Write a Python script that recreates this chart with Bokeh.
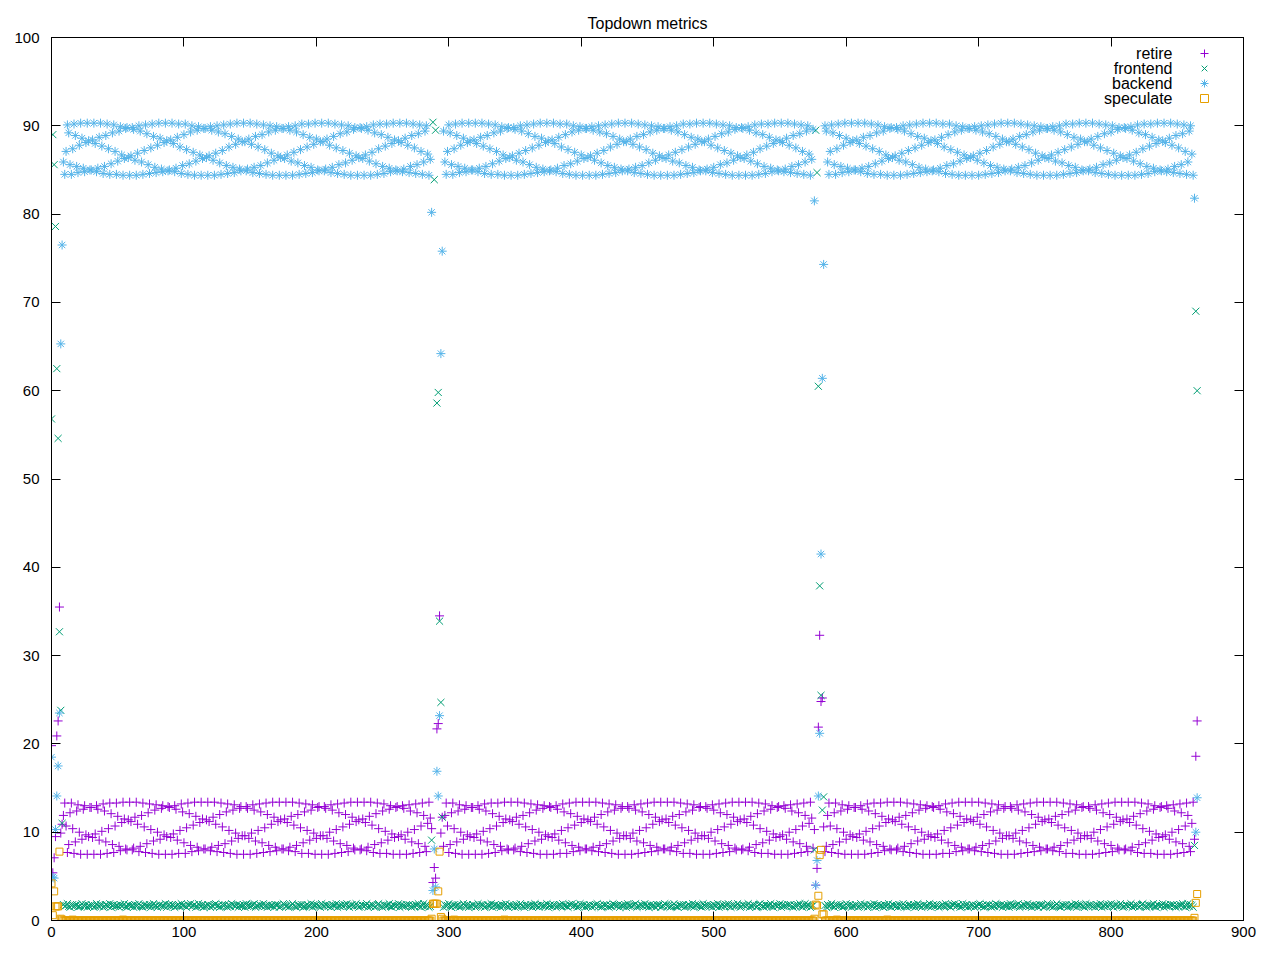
from bokeh.plotting import figure
from bokeh.models import Range1d, FixedTicker, Legend, LegendItem, Label, LinearAxis
from bokeh.embed import file_html
from bokeh.resources import INLINE
from bokeh.core.properties import value

title_text = "Topdown metrics"
series_names = ["retire", "frontend", "backend", "speculate"]
series_colors = ["#9400d3", "#009e73", "#56b4e9", "#e69f00"]
x_ticks = [0, 100, 200, 300, 400, 500, 600, 700, 800, 900]
y_ticks = [0, 10, 20, 30, 40, 50, 60, 70, 80, 90, 100]

# steady-state readings of one run (sample index within run)
retire_cycle = [
    13.4, 11.3, 8.0, 8.2, 11.6, 13.4, 11.0, 7.8, 8.4, 11.9,
    13.3, 10.7, 7.7, 8.6, 12.2, 13.3, 10.4, 7.6, 8.9, 12.4,
    13.1, 10.0, 7.5, 9.2, 12.6, 13.0, 9.7, 7.5, 9.5, 12.8,
    12.8, 9.4, 7.5, 9.8, 13.0, 12.6, 9.1, 7.5, 10.1, 13.2,
    12.4, 8.9, 7.6, 10.4, 13.3, 12.1, 8.6, 7.7, 10.7, 13.3,
    11.8, 8.4, 7.9, 11.1, 13.4, 11.5, 8.1, 8.0, 11.4, 13.4,
    11.2, 8.0, 8.2, 11.7, 13.4, 10.9, 7.8, 8.4, 11.9, 13.3,
    10.6, 7.7, 8.7, 12.2, 13.2, 10.3, 7.6, 9.0, 12.5, 13.1,
    10.0, 7.5, 9.2, 12.7, 13.0, 9.7, 7.5, 9.5, 12.9, 12.8,
    9.4, 7.5, 9.8, 13.0, 12.6, 9.1, 7.6, 10.2, 13.2, 12.3,
    8.8, 7.6, 10.5, 13.3, 12.1, 8.5, 7.8, 10.8, 13.4, 11.8,
    8.3, 7.9, 11.1, 13.4, 11.5, 8.1, 8.1, 11.4, 13.4, 11.2,
    7.9, 8.3, 11.7, 13.4, 10.9, 7.8, 8.5, 12.0, 13.3, 10.6,
    7.7, 8.7, 12.3, 13.2, 10.2, 7.6, 9.0, 12.5, 13.1, 9.9,
    7.5, 9.3, 12.7, 12.9, 9.6, 7.5, 9.6, 12.9, 12.7, 9.3,
    7.5, 9.9, 13.1, 12.5, 9.0, 7.6, 10.2, 13.2, 12.3, 8.8,
    7.7, 10.5, 13.3, 12.0, 8.5, 7.8, 10.9, 13.4, 11.7, 8.3,
    7.9, 11.2, 13.4, 11.4, 8.1, 8.1, 11.5, 13.4, 11.1, 7.9,
    8.3, 11.8, 13.4, 10.8, 7.8, 8.5, 12.0, 13.3, 10.5, 7.6,
    8.8, 12.3, 13.2, 10.2, 7.6, 9.1, 12.5, 13.1, 9.9, 7.5,
    9.3, 12.8, 12.9, 9.6, 7.5, 9.6, 12.9, 12.7, 9.3, 7.5,
    10.0, 13.1, 12.5, 9.0, 7.6, 10.3, 13.2, 12.2, 8.7, 7.7,
    10.6, 13.3, 12.0, 8.5, 7.8, 10.9, 13.4, 11.7, 8.2, 8.0,
    11.2, 13.4, 11.4, 8.0, 8.1, 11.5, 13.4, 11.1, 7.9, 8.3,
    11.8, 13.4, 10.8, 7.7, 8.6, 12.1, 13.3, 10.4, 7.6, 8.8,
    12.4, 13.2, 10.1, 7.6, 9.1, 12.6, 13.0, 9.8, 7.5, 9.4,
    12.8, 12.9, 9.5, 7.5, 9.7, 13.0, 12.7, 9.2, 7.5, 10.0,
    13.1, 12.4, 8.9, 7.6, 10.3, 13.2, 12.2, 8.7, 7.7, 10.7,
    13.3, 11.9, 8.4, 7.8, 11.0, 13.4, 11.6, 8.2, 8.0, 11.3,
]

backend_cycle = [
    84.4, 86.5, 89.8, 89.6, 86.2, 84.4, 86.8, 90.0, 89.4, 85.9,
    84.5, 87.1, 90.1, 89.2, 85.6, 84.5, 87.4, 90.2, 88.9, 85.4,
    84.7, 87.8, 90.3, 88.6, 85.2, 84.8, 88.1, 90.3, 88.3, 85.0,
    85.0, 88.4, 90.3, 88.0, 84.8, 85.2, 88.7, 90.3, 87.7, 84.6,
    85.4, 88.9, 90.2, 87.4, 84.5, 85.7, 89.2, 90.1, 87.1, 84.5,
    86.0, 89.4, 89.9, 86.7, 84.4, 86.3, 89.7, 89.8, 86.4, 84.4,
    86.6, 89.8, 89.6, 86.1, 84.4, 86.9, 90.0, 89.4, 85.9, 84.5,
    87.2, 90.1, 89.1, 85.6, 84.6, 87.5, 90.2, 88.8, 85.3, 84.7,
    87.8, 90.3, 88.6, 85.1, 84.8, 88.1, 90.3, 88.3, 84.9, 85.0,
    88.4, 90.3, 88.0, 84.8, 85.2, 88.7, 90.2, 87.6, 84.6, 85.5,
    89.0, 90.2, 87.3, 84.5, 85.7, 89.3, 90.0, 87.0, 84.4, 86.0,
    89.5, 89.9, 86.7, 84.4, 86.3, 89.7, 89.7, 86.4, 84.4, 86.6,
    89.9, 89.5, 86.1, 84.4, 86.9, 90.0, 89.3, 85.8, 84.5, 87.2,
    90.1, 89.1, 85.5, 84.6, 87.6, 90.2, 88.8, 85.3, 84.7, 87.9,
    90.3, 88.5, 85.1, 84.9, 88.2, 90.3, 88.2, 84.9, 85.1, 88.5,
    90.3, 87.9, 84.7, 85.3, 88.8, 90.2, 87.6, 84.6, 85.5, 89.0,
    90.1, 87.3, 84.5, 85.8, 89.3, 90.0, 86.9, 84.4, 86.1, 89.5,
    89.9, 86.6, 84.4, 86.4, 89.7, 89.7, 86.3, 84.4, 86.7, 89.9,
    89.5, 86.0, 84.4, 87.0, 90.0, 89.3, 85.8, 84.5, 87.3, 90.2,
    89.0, 85.5, 84.6, 87.6, 90.2, 88.7, 85.3, 84.7, 87.9, 90.3,
    88.5, 85.0, 84.9, 88.2, 90.3, 88.2, 84.9, 85.1, 88.5, 90.3,
    87.8, 84.7, 85.3, 88.8, 90.2, 87.5, 84.6, 85.6, 89.1, 90.1,
    87.2, 84.5, 85.8, 89.3, 90.0, 86.9, 84.4, 86.1, 89.6, 89.8,
    86.6, 84.4, 86.4, 89.8, 89.7, 86.3, 84.4, 86.7, 89.9, 89.5,
    86.0, 84.4, 87.0, 90.1, 89.2, 85.7, 84.5, 87.4, 90.2, 89.0,
    85.4, 84.6, 87.7, 90.2, 88.7, 85.2, 84.8, 88.0, 90.3, 88.4,
    85.0, 84.9, 88.3, 90.3, 88.1, 84.8, 85.1, 88.6, 90.3, 87.8,
    84.7, 85.4, 88.9, 90.2, 87.5, 84.6, 85.6, 89.1, 90.1, 87.1,
    84.5, 85.9, 89.4, 90.0, 86.8, 84.4, 86.2, 89.6, 89.8, 86.5,
]

frontend_cycle = [
    1.7, 1.6, 1.8, 1.5, 1.7, 1.9, 1.6, 1.7, 1.5, 1.8,
    1.6, 1.7, 1.9, 1.6, 1.5, 1.7, 1.8, 1.6, 1.7, 1.8,
    1.5, 1.6, 1.7, 1.9, 1.7, 1.6, 1.8, 1.5, 1.7, 1.6,
    1.8, 1.7, 1.5, 1.6, 1.9, 1.7, 1.6, 1.8, 1.7, 1.5,
    1.6, 1.8, 1.7, 1.6, 1.9, 1.5, 1.7, 1.8, 1.6, 1.7,
    1.7, 1.5, 1.8, 1.6, 1.7, 1.9, 1.6, 1.5, 1.8, 1.7,
    1.6, 1.7, 1.5, 1.8, 1.6, 1.7, 1.9, 1.7, 1.6, 1.5,
    1.8, 1.6, 1.7, 1.6, 1.8, 1.5, 1.7, 1.9, 1.6, 1.7,
    1.5, 1.7, 1.8, 1.6, 1.7, 1.6, 1.9, 1.5, 1.7, 1.8,
    1.6, 1.8, 1.7, 1.5, 1.6, 1.7, 1.8, 1.6, 1.9, 1.7,
    1.7, 1.6, 1.5, 1.8, 1.7, 1.9, 1.6, 1.7, 1.8, 1.5,
    1.6, 1.9, 1.7, 1.6, 1.8, 1.5, 1.7, 1.6, 1.8, 1.7,
    1.5, 1.7, 1.6, 1.8, 1.9, 1.6, 1.7, 1.5, 1.6, 1.8,
    1.7, 1.8, 1.6, 1.5, 1.7, 1.6, 1.9, 1.8, 1.7, 1.6,
    1.8, 1.5, 1.7, 1.7, 1.6, 1.8, 1.5, 1.9, 1.6, 1.7,
    1.6, 1.7, 1.8, 1.9, 1.5, 1.7, 1.6, 1.8, 1.7, 1.6,
    1.9, 1.6, 1.7, 1.5, 1.8, 1.6, 1.7, 1.7, 1.5, 1.8,
    1.7, 1.8, 1.5, 1.6, 1.7, 1.9, 1.8, 1.6, 1.7, 1.5,
    1.6, 1.7, 1.9, 1.7, 1.6, 1.5, 1.8, 1.7, 1.6, 1.8,
    1.5, 1.6, 1.7, 1.8, 1.7, 1.6, 1.9, 1.5, 1.8, 1.7,
    1.8, 1.7, 1.6, 1.5, 1.9, 1.7, 1.6, 1.8, 1.7, 1.6,
    1.7, 1.5, 1.8, 1.7, 1.6, 1.9, 1.5, 1.7, 1.6, 1.8,
    1.6, 1.8, 1.7, 1.9, 1.6, 1.5, 1.7, 1.8, 1.6, 1.7,
    1.9, 1.7, 1.5, 1.6, 1.8, 1.7, 1.6, 1.7, 1.9, 1.5,
    1.7, 1.6, 1.8, 1.7, 1.5, 1.6, 1.8, 1.9, 1.7, 1.6,
    1.5, 1.8, 1.6, 1.7, 1.7, 1.9, 1.6, 1.5, 1.8, 1.7,
    1.6, 1.7, 1.9, 1.5, 1.8, 1.6, 1.7, 1.6, 1.8, 1.7,
    1.8, 1.6, 1.5, 1.7, 1.6, 1.8, 1.7, 1.9, 1.6, 1.5,
    1.7, 1.9, 1.6, 1.8, 1.7, 1.5, 1.6, 1.7, 1.8, 1.6,
]

speculate_cycle = [
    0, 0, 0, 0, 0, 0, 0, 0, 0, 0,
    0, 0, 0, 0, 0, 0, 0.1, 0, 0, 0,
    0, 0, 0, 0, 0, 0, 0, 0, 0, 0,
    0, 0, 0, 0, 0, 0, 0, 0, 0, 0,
    0, 0, 0, 0, 0, 0, 0, 0, 0, 0,
    0, 0, 0, 0, 0.1, 0, 0, 0, 0, 0,
    0, 0, 0, 0, 0, 0, 0, 0, 0, 0,
    0, 0, 0, 0, 0, 0, 0, 0, 0, 0,
    0, 0, 0, 0, 0, 0, 0, 0, 0, 0,
    0, 0, 0, 0, 0, 0, 0, 0, 0, 0,
    0, 0, 0, 0, 0, 0, 0, 0, 0, 0,
    0, 0, 0, 0, 0, 0, 0, 0, 0, 0,
    0, 0, 0, 0, 0, 0, 0, 0, 0, 0,
    0, 0, 0, 0, 0, 0, 0, 0, 0, 0,
    0, 0, 0, 0, 0, 0, 0, 0, 0, 0,
    0, 0, 0, 0, 0, 0, 0, 0, 0, 0,
    0, 0, 0, 0, 0, 0, 0, 0, 0, 0,
    0, 0, 0, 0, 0, 0, 0, 0, 0, 0,
    0, 0, 0, 0, 0, 0, 0, 0, 0, 0,
    0, 0, 0, 0, 0, 0, 0, 0, 0, 0,
    0, 0, 0, 0, 0, 0, 0, 0, 0, 0,
    0, 0, 0, 0, 0, 0, 0, 0, 0, 0,
    0, 0, 0, 0, 0, 0, 0, 0, 0, 0,
    0, 0, 0, 0, 0, 0, 0, 0, 0, 0,
    0, 0, 0, 0, 0, 0, 0, 0, 0, 0,
    0, 0, 0, 0, 0, 0, 0, 0, 0, 0,
    0, 0, 0, 0, 0, 0, 0, 0, 0, 0,
    0, 0, 0, 0, 0, 0, 0, 0, 0, 0,
    0, 0, 0, 0, 0, 0, 0, 0, 0, 0,
]

# start-up / end readings of each run
retire_head1 = [19.8, 5.4, 7.1, 9.5, 20.9, 22.6, 35.5, 9.9, 10.9]
retire_tail1 = [10.4]
retire_head2 = [4.3, 6.0, 4.8, 21.7, 22.3, 34.5, 9.9, 11.7]
retire_tail2 = [10.3]
retire_head3 = [4.0, 5.9, 21.9, 32.3, 24.8, 25.2, 10.6]
retire_tail3 = [9.2, 18.6, 22.6]

frontend_head1 = [56.8, 89.0, 85.6, 78.6, 62.5, 54.6, 32.7, 23.8, 11.0]
frontend_tail1 = [9.1]
frontend_head2 = [90.4, 83.9, 89.5, 58.6, 59.8, 33.9, 24.7, 11.7]
frontend_tail2 = [8.0]
frontend_head3 = [89.5, 84.7, 60.5, 37.9, 25.5, 12.5, 14.0]
frontend_tail3 = [8.5, 69.0, 60.0]

backend_head1 = [18.5, 4.9, 4.8, 10.3, 14.1, 17.5, 23.5, 65.3, 76.5]
backend_tail1 = [80.2]
backend_head2 = [3.4, 8.1, 3.8, 16.9, 14.1, 23.2, 64.2, 75.8]
backend_tail2 = [81.5]
backend_head3 = [4.0, 6.8, 14.1, 21.2, 41.5, 61.4, 74.3]
backend_tail3 = [81.8, 10.0, 13.9]

speculate_head1 = [4.2, 0.6, 3.3, 1.6, 1.6, 1.6, 7.8, 0.2, 0.1]
speculate_tail1 = [0.2]
speculate_head2 = [1.9, 1.9, 1.9, 1.9, 3.3, 7.8, 0.4, 0.2]
speculate_tail2 = [0.2]
speculate_head3 = [1.8, 1.7, 2.8, 7.4, 8.0, 0.7, 0.7]
speculate_tail3 = [0.3, 2.0, 3.0]


def assemble(cycle, h1, t1, h2, t2, h3, t3):
    run1 = h1 + cycle[len(h1):287] + t1
    run2 = h2 + cycle[len(h2):288] + t2
    run3 = h3 + cycle[len(h3):286] + t3
    return run1 + run2 + run3


retire = assemble(retire_cycle, retire_head1, retire_tail1, retire_head2,
                  retire_tail2, retire_head3, retire_tail3)
frontend = assemble(frontend_cycle, frontend_head1, frontend_tail1, frontend_head2,
                    frontend_tail2, frontend_head3, frontend_tail3)
backend = assemble(backend_cycle, backend_head1, backend_tail1, backend_head2,
                   backend_tail2, backend_head3, backend_tail3)
speculate = assemble(speculate_cycle, speculate_head1, speculate_tail1, speculate_head2,
                     speculate_tail2, speculate_head3, speculate_tail3)
sample = list(range(len(retire)))

FONT = "Liberation Sans"
TICK_PX = 9

# figure fits inside the 8px page margin: frame lands at page (59, 45)-(1251, 928)
p = figure(width=1264, height=944, output_backend="svg", toolbar_location=None,
           x_range=Range1d(0, 900), y_range=Range1d(0, 100),
           min_border_left=51, min_border_right=21, min_border_top=37,
           min_border_bottom=24, title=title_text)
p.title.align = "center"
p.title.text_font = FONT
p.title.text_font_size = "16px"
p.title.text_font_style = "normal"
p.title.text_color = "black"
p.title.standoff = 12
p.xgrid.visible = False
p.ygrid.visible = False
p.outline_line_color = "black"
p.outline_line_alpha = 1.0
p.outline_line_width = 1
p.background_fill_color = "white"
p.border_fill_color = "white"

p.xaxis.ticker = FixedTicker(ticks=x_ticks)
p.yaxis.ticker = FixedTicker(ticks=y_ticks)
for ax in [p.xaxis[0], p.yaxis[0]]:
    ax.major_tick_in = TICK_PX
    ax.major_tick_out = 0
    ax.minor_tick_in = 0
    ax.minor_tick_out = 0
    ax.axis_line_color = "black"
    ax.major_tick_line_color = "black"
    ax.major_label_text_font = FONT
    ax.major_label_text_font_size = "15px"
    ax.major_label_text_color = "black"
p.yaxis[0].major_label_standoff = 12
p.xaxis[0].major_label_standoff = 6

# mirrored inward ticks on the top and right borders (no labels there)
top_axis = LinearAxis(ticker=FixedTicker(ticks=x_ticks), major_tick_in=TICK_PX, major_tick_out=0,
                      minor_tick_in=0, minor_tick_out=0, major_label_text_color=None,
                      major_label_text_font_size="1px", major_label_standoff=0,
                      axis_line_color="black", major_tick_line_color="black")
right_axis = LinearAxis(ticker=FixedTicker(ticks=y_ticks), major_tick_in=TICK_PX, major_tick_out=0,
                        minor_tick_in=0, minor_tick_out=0, major_label_text_color=None,
                        major_label_text_font_size="1px", major_label_standoff=0,
                        axis_line_color="black", major_tick_line_color="black")
p.add_layout(top_axis, "above")
p.add_layout(right_axis, "right")

r_ret = p.scatter(sample, retire, marker="cross", size=9, line_color=series_colors[0], line_width=1)
r_fe = p.scatter(sample, frontend, marker="x", size=10, line_color=series_colors[1], line_width=1)
r_be = p.scatter(sample, backend, marker="asterisk", size=9, line_color=series_colors[2], line_width=1)
r_sp = p.scatter(sample, speculate, marker="square", size=7, line_color=series_colors[3],
                 fill_color=None, line_width=1)

renderers = [r_ret, r_fe, r_be, r_sp]
ROW0 = 867   # frame-relative height of the first key row
for k, (name, r) in enumerate(zip(series_names, renderers)):
    row = ROW0 - 15 * k
    p.add_layout(Legend(items=[LegendItem(label=value(" "), renderers=[r])],
                        location=(1143, row - 10), glyph_width=20, glyph_height=20,
                        spacing=0, padding=0, margin=0, label_standoff=0, label_width=0,
                        label_height=0, label_text_font_size="1px", border_line_color=None,
                        background_fill_alpha=0))
    p.add_layout(Label(x=1121, y=row, x_units="screen", y_units="screen",
                       text=name, text_align="right", text_baseline="middle",
                       text_font=FONT, text_font_size="16px", text_color="black"))

open("out.html", "w").write(file_html(p, INLINE))
